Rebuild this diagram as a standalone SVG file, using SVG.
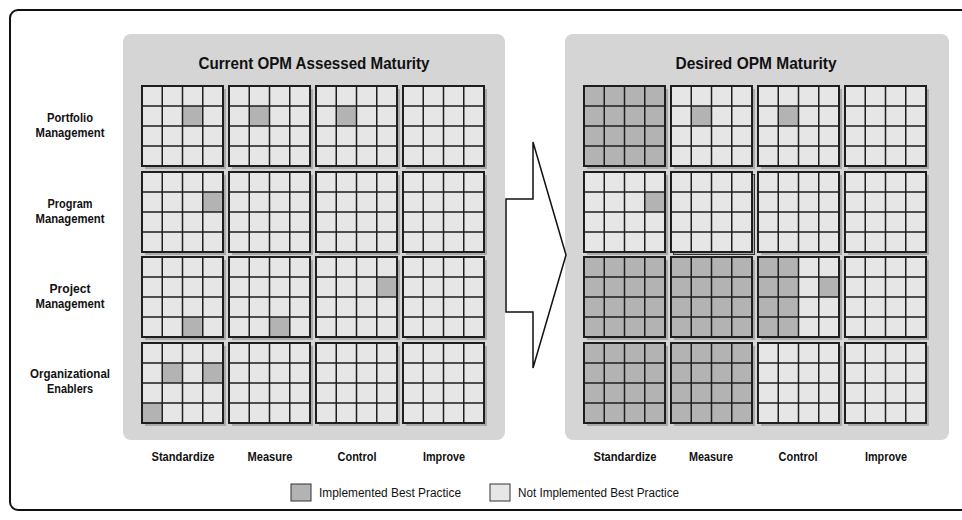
<svg xmlns="http://www.w3.org/2000/svg" xmlns:xlink="http://www.w3.org/1999/xlink" width="962" height="520" viewBox="0 0 962 520">
<style>
.panel{fill:#d5d5d5}
.title{font-family:"Liberation Sans",Arial,sans-serif;font-weight:bold;font-size:17px;fill:#111;text-anchor:middle}
.lbl{font-family:"Liberation Sans",Arial,sans-serif;font-weight:bold;font-size:12px;fill:#111;text-anchor:middle}
.leg{font-family:"Liberation Sans",Arial,sans-serif;font-size:12px;fill:#111}
.on{fill:#b3b3b3}
.off{fill:#e6e6e6}
.gl{fill:none;stroke:#1e1e1e;stroke-width:1.5}
.gb{fill:none;stroke:#1e1e1e;stroke-width:2}
.sh{fill:#a9a9a9}
</style>
<defs>
<g id="gridbase">
<rect class="sh" x="3" y="3" width="81" height="80"/>
<rect class="off" x="0" y="0" width="81" height="80"/>
</g>
<g id="gridlines">
<path class="gl" d="M20.25 0V80M40.5 0V80M60.75 0V80M0 20H81M0 40H81M0 60H81"/>
<rect class="gb" x="0" y="0" width="81" height="80"/>
</g>
<rect id="cell" class="on" width="20.25" height="20"/>
<rect id="full" class="on" width="81" height="80"/>
</defs>

<rect x="10" y="10" width="970" height="500" rx="8" fill="#fff" stroke="#111" stroke-width="2"/>

<rect class="panel" x="123" y="34" width="382" height="406" rx="8"/>
<rect class="panel" x="565" y="34" width="384" height="406" rx="8"/>

<text class="title" x="314" y="69" textLength="231" lengthAdjust="spacingAndGlyphs">Current OPM Assessed Maturity</text>
<text class="title" x="756" y="69" textLength="161" lengthAdjust="spacingAndGlyphs">Desired OPM Maturity</text>

<g id="row-labels">
<text class="lbl" x="70" y="122" textLength="46" lengthAdjust="spacingAndGlyphs">Portfolio</text>
<text class="lbl" x="70" y="137" textLength="69" lengthAdjust="spacingAndGlyphs">Management</text>
<text class="lbl" x="70" y="208" textLength="45" lengthAdjust="spacingAndGlyphs">Program</text>
<text class="lbl" x="70" y="223" textLength="69" lengthAdjust="spacingAndGlyphs">Management</text>
<text class="lbl" x="70" y="293" textLength="41" lengthAdjust="spacingAndGlyphs">Project</text>
<text class="lbl" x="70" y="308" textLength="69" lengthAdjust="spacingAndGlyphs">Management</text>
<text class="lbl" x="70" y="378" textLength="80" lengthAdjust="spacingAndGlyphs">Organizational</text>
<text class="lbl" x="70" y="393" textLength="46" lengthAdjust="spacingAndGlyphs">Enablers</text>
</g>

<g id="col-labels">
<text class="lbl" x="183" y="461" textLength="63" lengthAdjust="spacingAndGlyphs">Standardize</text>
<text class="lbl" x="270" y="461" textLength="45" lengthAdjust="spacingAndGlyphs">Measure</text>
<text class="lbl" x="357" y="461" textLength="39" lengthAdjust="spacingAndGlyphs">Control</text>
<text class="lbl" x="444" y="461" textLength="42" lengthAdjust="spacingAndGlyphs">Improve</text>
<text class="lbl" x="625" y="461" textLength="63" lengthAdjust="spacingAndGlyphs">Standardize</text>
<text class="lbl" x="711" y="461" textLength="44" lengthAdjust="spacingAndGlyphs">Measure</text>
<text class="lbl" x="798" y="461" textLength="39" lengthAdjust="spacingAndGlyphs">Control</text>
<text class="lbl" x="886" y="461" textLength="42" lengthAdjust="spacingAndGlyphs">Improve</text>
</g>

<!-- Current: Portfolio -->
<g id="cur-portfolio-standardize" transform="translate(142,86)"><use xlink:href="#gridbase"/><use xlink:href="#cell" x="40.5" y="20"/><use xlink:href="#gridlines"/></g>
<g id="cur-portfolio-measure" transform="translate(229,86)"><use xlink:href="#gridbase"/><use xlink:href="#cell" x="20.25" y="20"/><use xlink:href="#gridlines"/></g>
<g id="cur-portfolio-control" transform="translate(316,86)"><use xlink:href="#gridbase"/><use xlink:href="#cell" x="20.25" y="20"/><use xlink:href="#gridlines"/></g>
<g id="cur-portfolio-improve" transform="translate(403,86)"><use xlink:href="#gridbase"/><use xlink:href="#gridlines"/></g>
<!-- Current: Program -->
<g id="cur-program-standardize" transform="translate(142,172)"><use xlink:href="#gridbase"/><use xlink:href="#cell" x="60.75" y="20"/><use xlink:href="#gridlines"/></g>
<g id="cur-program-measure" transform="translate(229,172)"><use xlink:href="#gridbase"/><use xlink:href="#gridlines"/></g>
<g id="cur-program-control" transform="translate(316,172)"><use xlink:href="#gridbase"/><use xlink:href="#gridlines"/></g>
<g id="cur-program-improve" transform="translate(403,172)"><use xlink:href="#gridbase"/><use xlink:href="#gridlines"/></g>
<!-- Current: Project -->
<g id="cur-project-standardize" transform="translate(142,257)"><use xlink:href="#gridbase"/><use xlink:href="#cell" x="40.5" y="60"/><use xlink:href="#gridlines"/></g>
<g id="cur-project-measure" transform="translate(229,257)"><use xlink:href="#gridbase"/><use xlink:href="#cell" x="40.5" y="60"/><use xlink:href="#gridlines"/></g>
<g id="cur-project-control" transform="translate(316,257)"><use xlink:href="#gridbase"/><use xlink:href="#cell" x="60.75" y="20"/><use xlink:href="#gridlines"/></g>
<g id="cur-project-improve" transform="translate(403,257)"><use xlink:href="#gridbase"/><use xlink:href="#gridlines"/></g>
<!-- Current: Organizational Enablers -->
<g id="cur-enablers-standardize" transform="translate(142,343)"><use xlink:href="#gridbase"/><use xlink:href="#cell" x="20.25" y="20"/><use xlink:href="#cell" x="60.75" y="20"/><use xlink:href="#cell" x="0" y="60"/><use xlink:href="#gridlines"/></g>
<g id="cur-enablers-measure" transform="translate(229,343)"><use xlink:href="#gridbase"/><use xlink:href="#gridlines"/></g>
<g id="cur-enablers-control" transform="translate(316,343)"><use xlink:href="#gridbase"/><use xlink:href="#gridlines"/></g>
<g id="cur-enablers-improve" transform="translate(403,343)"><use xlink:href="#gridbase"/><use xlink:href="#gridlines"/></g>

<!-- Desired: Portfolio -->
<g id="des-portfolio-standardize" transform="translate(584,86)"><use xlink:href="#gridbase"/><use xlink:href="#full"/><use xlink:href="#gridlines"/></g>
<g id="des-portfolio-measure" transform="translate(671,86)"><use xlink:href="#gridbase"/><use xlink:href="#cell" x="20.25" y="20"/><use xlink:href="#gridlines"/></g>
<g id="des-portfolio-control" transform="translate(758,86)"><use xlink:href="#gridbase"/><use xlink:href="#cell" x="20.25" y="20"/><use xlink:href="#gridlines"/></g>
<g id="des-portfolio-improve" transform="translate(845,86)"><use xlink:href="#gridbase"/><use xlink:href="#gridlines"/></g>
<!-- Desired: Program -->
<g id="des-program-standardize" transform="translate(584,172)"><use xlink:href="#gridbase"/><use xlink:href="#cell" x="60.75" y="20"/><use xlink:href="#gridlines"/></g>
<g id="des-program-measure" transform="translate(671,172)"><rect x="2.5" y="2.5" width="81" height="80" fill="#a9a9a9" stroke="#333" stroke-width="1"/><rect class="off" x="0" y="0" width="81" height="80"/><use xlink:href="#gridlines"/></g>
<g id="des-program-control" transform="translate(758,172)"><use xlink:href="#gridbase"/><use xlink:href="#gridlines"/></g>
<g id="des-program-improve" transform="translate(845,172)"><use xlink:href="#gridbase"/><use xlink:href="#gridlines"/></g>
<!-- Desired: Project -->
<g id="des-project-standardize" transform="translate(584,257)"><use xlink:href="#gridbase"/><use xlink:href="#full"/><use xlink:href="#gridlines"/></g>
<g id="des-project-measure" transform="translate(671,257)"><use xlink:href="#gridbase"/><use xlink:href="#full"/><use xlink:href="#gridlines"/></g>
<g id="des-project-control" transform="translate(758,257)"><use xlink:href="#gridbase"/><rect class="on" x="0" y="0" width="40.5" height="80"/><use xlink:href="#cell" x="60.75" y="20"/><use xlink:href="#gridlines"/></g>
<g id="des-project-improve" transform="translate(845,257)"><use xlink:href="#gridbase"/><use xlink:href="#gridlines"/></g>
<!-- Desired: Organizational Enablers -->
<g id="des-enablers-standardize" transform="translate(584,343)"><use xlink:href="#gridbase"/><use xlink:href="#full"/><use xlink:href="#gridlines"/></g>
<g id="des-enablers-measure" transform="translate(671,343)"><use xlink:href="#gridbase"/><use xlink:href="#full"/><use xlink:href="#gridlines"/></g>
<g id="des-enablers-control" transform="translate(758,343)"><use xlink:href="#gridbase"/><use xlink:href="#gridlines"/></g>
<g id="des-enablers-improve" transform="translate(845,343)"><use xlink:href="#gridbase"/><use xlink:href="#gridlines"/></g>

<g id="connectors">
<polygon points="506,199 533,199 533,142 566,255 533,368 533,312 506,312" fill="#fff" stroke="#111" stroke-width="1.5" stroke-linejoin="miter"/>
</g>

<g id="legend">
<rect class="on" x="291" y="484" width="20" height="17" stroke="#333" stroke-width="1"/>
<text class="leg" x="319" y="497" textLength="142" lengthAdjust="spacingAndGlyphs">Implemented Best Practice</text>
<rect class="off" x="490" y="484" width="20" height="17" stroke="#333" stroke-width="1"/>
<text class="leg" x="518" y="497" textLength="161" lengthAdjust="spacingAndGlyphs">Not Implemented Best Practice</text>
</g>
</svg>
